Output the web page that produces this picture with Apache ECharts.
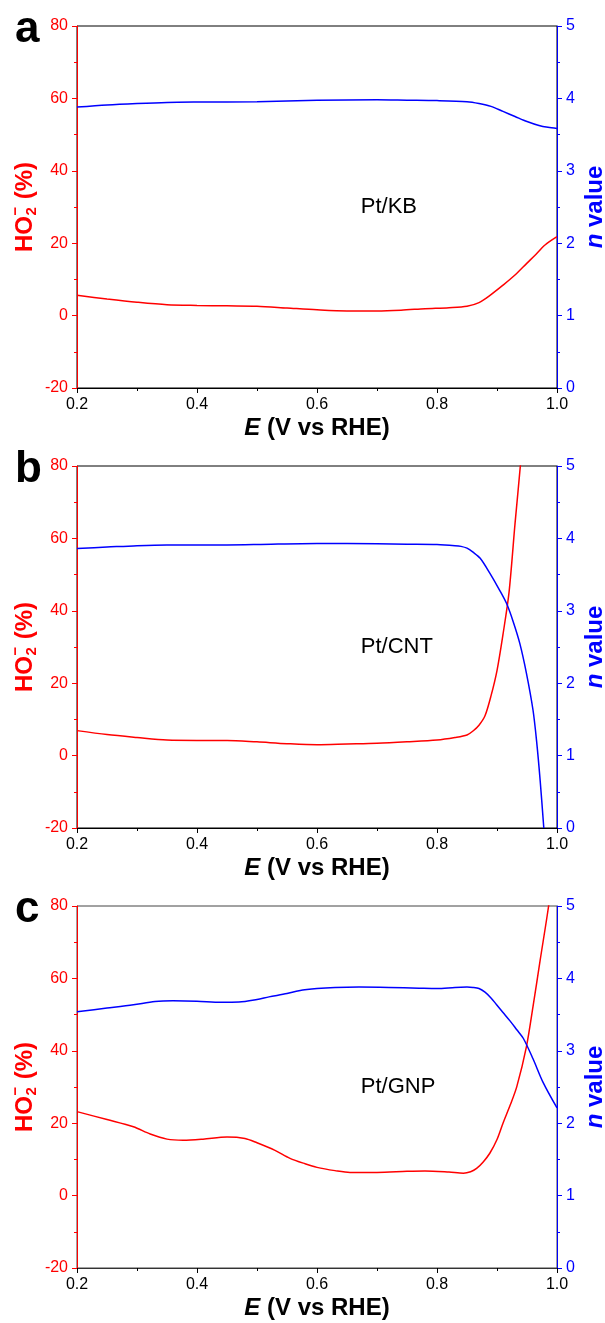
<!DOCTYPE html>
<html>
<head>
<meta charset="utf-8">
<script src="https://cdn.jsdelivr.net/npm/echarts@6/dist/echarts.min.js"></script>
<style>
html,body{margin:0;padding:0;background:#fff;}
#chart{width:605px;height:1323px;}
</style>
</head>
<body>
<div id="chart"></div>
<script>
// ---------------- DATA ----------------
const panelLetters = ['a', 'b', 'c'];
const sampleNames = ['Pt/KB', 'Pt/CNT', 'Pt/GNP'];
const xTicks = [0.2, 0.4, 0.6, 0.8, 1.0];

// Panel a (Pt/KB)
const aRedE   = [0.20,0.25,0.30,0.35,0.40,0.45,0.50,0.55,0.60,0.65,0.70,0.74,0.78,0.82,0.85,0.87,0.89,0.91,0.93,0.95,0.963,0.98,1.00];
const aRedHO2 = [5.6,4.6,3.7,3.0,2.8,2.7,2.6,2.1,1.6,1.3,1.3,1.5,1.9,2.2,2.6,3.6,5.8,8.4,11.2,14.5,16.6,19.5,21.8];
const aBlueE  = [0.20,0.25,0.30,0.35,0.40,0.50,0.60,0.70,0.75,0.80,0.85,0.87,0.89,0.91,0.93,0.95,0.97,0.985,1.00];
const aBlueN  = [3.88,3.91,3.93,3.945,3.95,3.955,3.975,3.98,3.975,3.97,3.955,3.93,3.89,3.82,3.75,3.68,3.625,3.60,3.585];

// Panel b (Pt/CNT)
const bRedE   = [0.20,0.25,0.30,0.35,0.40,0.45,0.50,0.55,0.60,0.65,0.70,0.75,0.80,0.83,0.85,0.86,0.87,0.88,0.89,0.90,0.91,0.92,0.93,0.94,0.95];
const bRedHO2 = [6.9,5.8,5.0,4.3,4.2,4.2,3.8,3.3,3.0,3.2,3.4,3.8,4.3,5.0,5.7,6.8,8.4,11.0,16.5,23.5,33.5,45,64,82,102];
const bBlueE  = [0.20,0.25,0.30,0.35,0.40,0.45,0.50,0.60,0.70,0.75,0.80,0.83,0.84,0.85,0.86,0.872,0.888,0.904,0.916,0.927,0.938,0.949,0.96,0.966,0.972,0.978];
const bBlueN  = [3.86,3.88,3.90,3.91,3.91,3.91,3.915,3.93,3.925,3.92,3.915,3.90,3.89,3.865,3.81,3.725,3.52,3.29,3.10,2.85,2.55,2.14,1.63,1.20,0.65,0.0];

// Panel c (Pt/GNP)
const cRedE   = [0.20,0.25,0.294,0.322,0.35,0.377,0.41,0.45,0.48,0.50,0.53,0.555,0.58,0.60,0.63,0.655,0.70,0.75,0.78,0.82,0.844,0.856,0.866,0.877,0.888,0.90,0.91,0.922,0.933,0.949,0.96,0.972,0.986,0.995];
const cRedHO2 = [23.2,21.0,19.0,17.0,15.6,15.3,15.6,16.2,15.8,14.6,12.5,10.3,8.8,7.8,6.9,6.4,6.4,6.7,6.8,6.5,6.2,6.6,7.5,9.3,11.7,15.5,20,25,30.1,41.1,52.2,65.1,80,92];
const cBlueE  = [0.20,0.25,0.294,0.33,0.36,0.40,0.44,0.47,0.50,0.52,0.55,0.57,0.60,0.63,0.67,0.72,0.77,0.80,0.83,0.85,0.86,0.87,0.88,0.89,0.899,0.91,0.922,0.933,0.944,0.96,0.977,1.00];
const cBlueN  = [3.54,3.59,3.635,3.68,3.69,3.685,3.672,3.675,3.71,3.745,3.79,3.83,3.86,3.875,3.88,3.875,3.865,3.86,3.875,3.88,3.875,3.86,3.81,3.73,3.64,3.53,3.41,3.29,3.17,2.89,2.56,2.21];

// annotation anchor (data coords: E, HO2)
const annotE = 0.673;
const annotHO2 = 30;

// ---------------- CHART ----------------
const FONT = "'Liberation Sans', Arial, Helvetica, sans-serif";
const RED = '#ff0000';
const BLUE = '#0000ff';
const tops = [26, 466, 906];
const PLOT_LEFT = 77, PLOT_W = 480, PLOT_H = 362;

const panels = [
  {rE: aRedE, rV: aRedHO2, bE: aBlueE, bV: aBlueN},
  {rE: bRedE, rV: bRedHO2, bE: bBlueE, bV: bBlueN},
  {rE: cRedE, rV: cRedHO2, bE: cBlueE, bV: cBlueN}
];
const zip = (xs, ys) => xs.map((x, i) => [x, ys[i]]);

const grids = [], xAxes = [], yAxes = [], series = [], graphics = [];

tops.forEach((t, i) => {
  grids.push({left: PLOT_LEFT, top: t, width: PLOT_W, height: PLOT_H, show: true,
    outerBoundsMode: 'none', containLabel: false,
    borderColor: i === 2 ? '#444' : '#000', borderWidth: 1, backgroundColor: 'transparent'});
  xAxes.push({
    type: 'value', gridIndex: i, min: 0.2, max: 1.0, interval: 0.2,
    axisLine: {show: true, onZero: false, lineStyle: {color: i === 2 ? '#333' : '#000', width: 1}},
    axisTick: {show: true, inside: false, length: 5, lineStyle: {color: '#000'}},
    minorTick: {show: true, splitNumber: 2, length: 3, lineStyle: {color: '#000'}},
    splitLine: {show: false},
    axisLabel: {color: '#000', fontSize: 16, fontFamily: FONT, margin: 9,
      formatter: v => (xTicks.some(tk => Math.abs(tk - v) < 1e-6) ? v.toFixed(1) : '')},
    name: '{i|E} (V vs RHE)', nameLocation: 'middle', nameGap: 28, nameMoveOverlap: false,
    nameTextStyle: {fontSize: 24, fontWeight: 'bold', color: '#000', fontFamily: FONT,
      rich: {i: {fontSize: 24, fontWeight: 'bold', fontStyle: 'italic', color: '#000', fontFamily: FONT}}}
  });
  yAxes.push({
    type: 'value', gridIndex: i, position: 'left', min: -20, max: 80, interval: 20,
    axisLine: {show: true, onZero: false, lineStyle: {color: RED, width: 1}},
    axisTick: {show: true, inside: false, length: 5, lineStyle: {color: RED}},
    minorTick: {show: true, splitNumber: 2, length: 3, lineStyle: {color: RED}},
    splitLine: {show: false},
    axisLabel: {color: RED, fontSize: 16, fontFamily: FONT, margin: 9}
  });
  yAxes.push({
    type: 'value', gridIndex: i, position: 'right', min: 0, max: 5, interval: 1,
    axisLine: {show: true, onZero: false, lineStyle: {color: BLUE, width: 1}},
    axisTick: {show: true, inside: false, length: 5, lineStyle: {color: BLUE}},
    minorTick: {show: true, splitNumber: 2, length: 3, lineStyle: {color: BLUE}},
    splitLine: {show: false},
    axisLabel: {color: BLUE, fontSize: 16, fontFamily: FONT, margin: 9},
    name: '{i|n} value', nameLocation: 'middle', nameRotate: 90, nameGap: 26, nameMoveOverlap: false,
    nameTextStyle: {fontSize: 24, fontWeight: 'bold', color: BLUE, fontFamily: FONT,
      rich: {i: {fontSize: 24, fontWeight: 'bold', fontStyle: 'italic', color: BLUE, fontFamily: FONT}}}
  });
  const p = panels[i];
  series.push({type: 'line', xAxisIndex: i, yAxisIndex: 2 * i, data: zip(p.rE, p.rV),
    showSymbol: false, smooth: 0.3, clip: true,
    lineStyle: {color: RED, width: 1.5}, itemStyle: {color: RED}, z: 3});
  series.push({type: 'line', xAxisIndex: i, yAxisIndex: 2 * i + 1, data: zip(p.bE, p.bV),
    showSymbol: false, smooth: 0.3, clip: true,
    lineStyle: {color: BLUE, width: 1.5}, itemStyle: {color: BLUE}, z: 3});

  // panel letter
  graphics.push({type: 'text', x: 15, y: t + 4, style: {text: panelLetters[i],
    font: 'bold 44px ' + FONT, fill: '#000', verticalAlign: 'middle', align: 'left'}});
  // left axis title  HO2- (%)
  const tf = 'bold 24px ' + FONT, sf = 'bold 15px ' + FONT;
  graphics.push({type: 'group', x: 25, y: t + 180, rotation: Math.PI / 2, children: [
    {type: 'text', x: -46, y: 0, style: {text: 'HO', font: tf, fill: RED, verticalAlign: 'middle', align: 'left'}},
    {type: 'text', x: -9.5, y: 7, style: {text: '2', font: sf, fill: RED, verticalAlign: 'middle', align: 'left'}},
    {type: 'text', x: -9.5, y: -9, style: {text: '\u2212', font: sf, fill: RED, verticalAlign: 'middle', align: 'left'}},
    {type: 'text', x: 0, y: 0, style: {text: ' (%)', font: tf, fill: RED, verticalAlign: 'middle', align: 'left'}}
  ]});
});

const chart = echarts.init(document.getElementById('chart'), null, {renderer: 'canvas'});
chart.setOption({
  animation: false,
  backgroundColor: '#fff',
  textStyle: {fontFamily: FONT},
  grid: grids, xAxis: xAxes, yAxis: yAxes, series: series, graphic: graphics
});

// annotations placed through the axes' own scales
const annots = sampleNames.map((name, i) => {
  const pt = chart.convertToPixel({gridIndex: i}, [annotE, annotHO2]);
  return {type: 'text', x: pt[0], y: pt[1], style: {text: name, font: '22px ' + FONT,
    fill: '#000', verticalAlign: 'middle', align: 'left'}};
});
chart.setOption({graphic: graphics.concat(annots)});
</script>
</body>
</html>
